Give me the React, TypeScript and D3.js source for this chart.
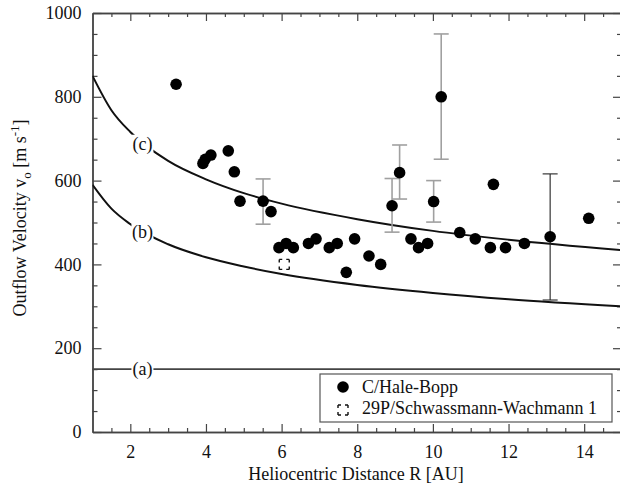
import React, { useEffect, useRef } from "react";
import * as d3 from "d3";

// C/Hale-Bopp outflow velocities
const hbR = [3.21, 3.92, 3.98, 4.13, 4.59, 4.75, 4.9, 5.51, 5.72, 5.93, 6.12, 6.31, 6.71, 6.91, 7.26, 7.47, 7.71, 7.93, 8.31, 8.62, 8.92, 9.12, 9.42, 9.62, 9.86, 10.02, 10.22, 10.71, 11.12, 11.52, 11.6, 11.92, 12.42, 13.1, 14.12];
const hbV = [830, 641, 651, 661, 671, 621, 551, 551, 526, 440, 450, 440, 450, 461, 440, 450, 381, 461, 420, 400, 540, 619, 461, 440, 450, 550, 800, 476, 461, 440, 591, 440, 450, 466, 510];

// error bars
const errR = [5.51, 8.92, 9.12, 10.02, 10.22, 13.1];
const errLow = [496, 477, 556, 501, 651, 315];
const errHigh = [604, 605, 685, 600, 950, 616];

// 29P/Schwassmann-Wachmann 1
const swR = [6.07];
const swV = [400];

// model curves (a), (b), (c)
const modelR = [1, 1.5, 2, 3, 4, 5, 6, 8, 10, 12, 15];
const modelB = [590, 533, 496, 448, 417, 395, 377, 351, 332, 317, 300];
const modelC = [850, 768, 716, 647, 603, 570, 545, 508, 480, 459, 434];
const modelAR = [1, 15];
const modelA = [150, 150];
const curveLabels = ["(a)", "(b)", "(c)"];

const xTicks = [2, 4, 6, 8, 10, 12, 14];
const yTicks = [0, 200, 400, 600, 800, 1000];
const legendLabels = ["C/Hale-Bopp", "29P/Schwassmann-Wachmann 1"];

const FONT = "Liberation Serif, Times New Roman, serif";

export default function App() {
  const ref = useRef<SVGSVGElement>(null);

  useEffect(() => {
    const width = 620;
    const height = 487;
    const left = 92.5, right = 622, top = 13, bottom = 432;

    const svg = d3.select(ref.current).attr("width", width).attr("height", height);
    svg.selectAll("*").remove();

    const x = d3.scaleLinear().domain([1, 15]).range([left, right]);
    const y = d3.scaleLinear().domain([0, 1000]).range([bottom, top]);

    svg.append("defs").append("clipPath").attr("id", "plotclip")
      .append("rect").attr("x", left).attr("y", top).attr("width", right - left).attr("height", bottom - top);

    const minorX = d3.range(1.5, 15, 0.5).filter(v => v % 2 !== 0);
    const minorY = d3.range(50, 1000, 50).filter(v => v % 200 !== 0);

    const styleAxis = (g: any) => {
      g.attr("color", "#444").attr("font-family", FONT).attr("font-size", 18);
      g.selectAll("text").attr("fill", "#111");
      g.selectAll("line").attr("stroke-width", 1.2);
      g.select(".domain").attr("stroke-width", 1.4);
    };

    // bottom
    svg.append("g").attr("transform", `translate(0,${bottom})`)
      .call(d3.axisBottom(x).tickValues(minorX).tickSizeInner(-4).tickSizeOuter(0).tickFormat(() => ""))
      .call(styleAxis);
    svg.append("g").attr("transform", `translate(0,${bottom})`)
      .call(d3.axisBottom(x).tickValues(xTicks).tickSizeInner(-8).tickSizeOuter(0).tickPadding(13).tickFormat(d3.format("d")))
      .call(styleAxis);
    // top
    svg.append("g").attr("transform", `translate(0,${top})`)
      .call(d3.axisTop(x).tickValues(minorX).tickSizeInner(-4).tickSizeOuter(0).tickFormat(() => ""))
      .call(styleAxis);
    svg.append("g").attr("transform", `translate(0,${top})`)
      .call(d3.axisTop(x).tickValues(xTicks).tickSizeInner(-8).tickSizeOuter(0).tickFormat(() => ""))
      .call(styleAxis);
    // left
    svg.append("g").attr("transform", `translate(${left},0)`)
      .call(d3.axisLeft(y).tickValues(minorY).tickSizeInner(-5).tickSizeOuter(0).tickFormat(() => ""))
      .call(styleAxis);
    svg.append("g").attr("transform", `translate(${left},0)`)
      .call(d3.axisLeft(y).tickValues(yTicks).tickSizeInner(-9).tickSizeOuter(0).tickPadding(11).tickFormat(d3.format("d")))
      .call(styleAxis);
    // right
    svg.append("g").attr("transform", `translate(${right},0)`)
      .call(d3.axisRight(y).tickValues(minorY).tickSizeInner(-5).tickSizeOuter(0).tickFormat(() => ""))
      .call(styleAxis);
    svg.append("g").attr("transform", `translate(${right},0)`)
      .call(d3.axisRight(y).tickValues(yTicks).tickSizeInner(-9).tickSizeOuter(0).tickFormat(() => ""))
      .call(styleAxis);

    const plot = svg.append("g").attr("clip-path", "url(#plotclip)");

    const line = d3.line<[number, number]>().x(d => x(d[0])).y(d => y(d[1])).curve(d3.curveMonotoneX);
    plot.append("path").attr("d", line(modelAR.map((r, i) => [r, modelA[i]]) as any))
      .attr("fill", "none").attr("stroke", "#444").attr("stroke-width", 1.6);
    plot.append("path").attr("d", line(modelR.map((r, i) => [r, modelB[i]]) as any))
      .attr("fill", "none").attr("stroke", "#111").attr("stroke-width", 2);
    plot.append("path").attr("d", line(modelR.map((r, i) => [r, modelC[i]]) as any))
      .attr("fill", "none").attr("stroke", "#111").attr("stroke-width", 2);

    // curve labels sit at R ~ 2.3 with a gap in the line
    const labR = 2.32;
    const labV = [modelA[0], 478, 688];
    curveLabels.forEach((t, i) => {
      const cx = x(labR), cy = y(labV[i]);
      svg.append("rect").attr("x", cx - 11).attr("y", cy - 9).attr("width", 22).attr("height", 18).attr("fill", "#fff");
      svg.append("text").attr("x", cx).attr("y", cy + 6).attr("text-anchor", "middle")
        .attr("font-family", FONT).attr("font-size", 18).attr("fill", "#111").text(t);
    });

    // error bars
    errR.forEach((r, i) => {
      const last = i === errR.length - 1;
      const g = svg.append("g").attr("stroke", last ? "#222" : "#a0a0a0").attr("stroke-width", last ? 1.1 : 1.6);
      g.append("line").attr("x1", x(r)).attr("x2", x(r)).attr("y1", y(errLow[i])).attr("y2", y(errHigh[i]));
      g.append("line").attr("x1", x(r) - 7.5).attr("x2", x(r) + 7.5).attr("y1", y(errLow[i])).attr("y2", y(errLow[i]));
      g.append("line").attr("x1", x(r) - 7.5).attr("x2", x(r) + 7.5).attr("y1", y(errHigh[i])).attr("y2", y(errHigh[i]));
    });

    // Hale-Bopp points
    svg.append("g").selectAll("circle").data(hbR).join("circle")
      .attr("cx", d => x(d)).attr("cy", (d, i) => y(hbV[i])).attr("r", 5.8).attr("fill", "#000");

    // SW1 square
    svg.append("g").selectAll("rect").data(swR).join("rect")
      .attr("x", d => x(d) - 5).attr("y", (d, i) => y(swV[i]) - 5).attr("width", 10).attr("height", 10)
      .attr("fill", "#fff").attr("stroke", "#111").attr("stroke-width", 1.4).attr("stroke-dasharray", "3 4 3 0");

    // legend
    const lg = svg.append("g");
    lg.append("rect").attr("x", 320).attr("y", 374).attr("width", 292).attr("height", 48)
      .attr("fill", "#fff").attr("stroke", "#555").attr("stroke-width", 1.2);
    lg.append("circle").attr("cx", 343).attr("cy", 387).attr("r", 5.8).attr("fill", "#000");
    lg.append("rect").attr("x", 338).attr("y", 405).attr("width", 10).attr("height", 10)
      .attr("fill", "#fff").attr("stroke", "#111").attr("stroke-width", 1.4).attr("stroke-dasharray", "3 4 3 0");
    legendLabels.forEach((t, i) => {
      lg.append("text").attr("x", 362).attr("y", 393 + i * 21).attr("font-family", FONT)
        .attr("font-size", 18).attr("fill", "#111").text(t);
    });

    // axis titles
    svg.append("text").attr("x", 356).attr("y", 480).attr("text-anchor", "middle")
      .attr("font-family", FONT).attr("font-size", 18).attr("fill", "#111").text("Heliocentric Distance R [AU]");
    const yt = svg.append("text").attr("transform", "translate(26,218) rotate(-90)").attr("text-anchor", "middle")
      .attr("font-family", FONT).attr("font-size", 18).attr("fill", "#111");
    yt.append("tspan").text("Outflow Velocity v");
    yt.append("tspan").attr("font-size", 13).attr("dy", 5).text("o");
    yt.append("tspan").attr("dy", -5).text(" [m s");
    yt.append("tspan").attr("font-size", 13).attr("dy", -7).text("-1");
    yt.append("tspan").attr("dy", 7).text("]");
  }, []);

  return <svg ref={ref} style={{ position: "absolute", left: 0, top: 0, background: "#fff" }} />;
}
